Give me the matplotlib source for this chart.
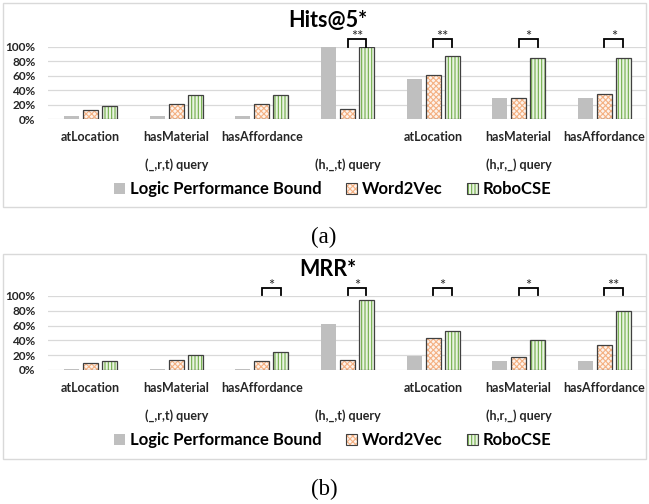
import matplotlib
matplotlib.use("Agg")
import matplotlib.pyplot as plt
from matplotlib.patches import Rectangle, Patch
from matplotlib.legend_handler import HandlerTuple
from matplotlib.transforms import blended_transform_factory
import numpy as np

# ---------------- data ----------------
relations = ['atLocation', 'hasMaterial', 'hasAffordance', '',
             'atLocation', 'hasMaterial', 'hasAffordance']
query_labels = ['(_,r,t) query', '(h,_,t) query', '(h,r,_) query']
query_label_pos = [1, 3, 5]
series_names = ['Logic Performance Bound', 'Word2Vec', 'RoboCSE']

hits_logic = [4, 4, 4, 100, 55, 29, 29]
hits_w2v = [13, 21, 21, 14, 61, 29, 35]
hits_robo = [19, 34, 33, 100, 87, 85, 85]
hits_sig = ['', '', '', '**', '**', '*', '*']

mrr_logic = [1, 1, 1, 62, 19, 12, 12]
mrr_w2v = [10, 13, 12, 13, 43, 18, 34]
mrr_robo = [12, 20, 25, 95, 53, 41, 80]
mrr_sig = ['', '', '*', '*', '*', '*', '**']

yticks = [0, 20, 40, 60, 80, 100]

# ---------------- style ----------------
plt.rcParams['font.family'] = ['Lato', 'DejaVu Sans']
plt.rcParams['hatch.linewidth'] = 0.8
W, H = 649, 504
fig = plt.figure(figsize=(W / 100, H / 100), dpi=100)

GRAY = '#BFBFBF'
ORANGE_H = '#F4B183'
ORANGE_F = '#FDF3EC'
GREEN_H = '#70AD47'
GREEN_F = '#EAF4E3'
EDGE = '#404040'
TXT = '#262626'


def fy(py):
    return 1 - py / H


def panel(top, title, title_y, logic, w2v, robo, sig, y0, y100, row1, row2, leg_y,
          bottom, cap_y, cap, br_lo, br_hi, star_y):
    # border
    fig.patches.append(Rectangle((3 / W, fy(bottom)), (646 - 3) / W, (bottom - top) / H,
                                 transform=fig.transFigure, fill=False,
                                 edgecolor='#D9D9D9', linewidth=1.0))
    ax = fig.add_axes([48 / W, fy(y0), 599 / W, (y0 - y100) / H])
    x = np.arange(len(relations))
    bw, off = 0.175, 0.222
    l = np.array(logic) / 100
    w = np.array(w2v) / 100
    r = np.array(robo) / 100
    ax.bar(x - off, l, bw, color=GRAY, linewidth=0, zorder=3)
    ax.bar(x, w, bw, color=ORANGE_F, edgecolor=ORANGE_H, hatch='xxxxxx', linewidth=0, zorder=3)
    ax.bar(x, w, bw, fill=False, edgecolor=EDGE, linewidth=0.9, zorder=4)
    ax.bar(x + off, r, bw, color=GREEN_F, edgecolor=GREEN_H, hatch='|||||', linewidth=0, zorder=3)
    ax.bar(x + off, r, bw, fill=False, edgecolor=EDGE, linewidth=0.9, zorder=4)
    ax.set_xlim(-0.5, len(relations) - 0.5)
    ax.set_ylim(0, 1.0)
    ax.set_yticks(np.array(yticks) / 100)
    ax.set_yticklabels([f'{t}%' for t in yticks], fontsize=8.5, fontweight='bold', color=TXT)
    ax.tick_params(axis='y', length=0, pad=9)
    ax.set_xticks([])
    for s in ax.spines.values():
        s.set_visible(False)
    ax.grid(axis='y', color='#D9D9D9', linewidth=0.9, zorder=0)
    ax.set_axisbelow(True)
    # significance brackets
    for i, s in enumerate(sig):
        if s:
            ax.plot([i, i, i + off, i + off], [br_lo, br_hi, br_hi, br_lo], color='black',
                    linewidth=1.3, clip_on=False, zorder=5, solid_joinstyle='miter')
            ax.text(i + off / 2, star_y, s, ha='center', va='baseline', fontsize=10.5,
                    color=TXT, clip_on=False)
    tr = blended_transform_factory(ax.transData, fig.transFigure)
    for i, name in enumerate(relations):
        if name:
            fig.text(i, fy(row1), name, transform=tr, ha='center', va='center',
                     fontsize=9, fontweight='bold', color=TXT)
    for p, q in zip(query_label_pos, query_labels):
        fig.text(p, fy(row2), q, transform=tr, ha='center', va='center',
                 fontsize=9, fontweight='bold', color=TXT)
    fig.text(328 / W, fy(title_y), title, ha='center', va='center',
             fontsize=15.5, fontweight='bold', color='black')
    outline_o = Patch(fill=False, edgecolor=EDGE, linewidth=0.8)
    outline_g = Patch(fill=False, edgecolor=EDGE, linewidth=0.8)
    handles = [Patch(facecolor=GRAY, edgecolor=GRAY, linewidth=0),
               (Patch(facecolor=ORANGE_F, edgecolor=ORANGE_H, hatch='xxxxxx', linewidth=0), outline_o),
               (Patch(facecolor=GREEN_F, edgecolor=GREEN_H, hatch='|||||', linewidth=0), outline_g)]
    fig.legend(handles, series_names, loc='center', bbox_to_anchor=(333 / W, fy(leg_y)),
               ncol=3, frameon=False, handlelength=0.62, handleheight=0.62,
               handletextpad=0.3, columnspacing=1.5,
               handler_map={tuple: HandlerTuple(ndivide=1)},
               prop={'family': ['Lato', 'DejaVu Sans'], 'weight': 'bold', 'size': 12})
    fig.text(324 / W, fy(cap_y), cap, ha='center', va='center', fontsize=16.5,
             family=['Liberation Serif', 'DejaVu Serif'], color='black')
    return ax


panel(3, 'Hits@5*', 20, hits_logic, hits_w2v, hits_robo, hits_sig,
      y0=119.3, y100=46.7, row1=137, row2=165, leg_y=189, bottom=207, cap_y=237, cap='(a)',
      br_lo=1.0, br_hi=1.10, star_y=1.075)
panel(254, 'MRR*', 270, mrr_logic, mrr_w2v, mrr_robo, mrr_sig,
      y0=370, y100=296, row1=388, row2=416, leg_y=440, bottom=459, cap_y=489, cap='(b)',
      br_lo=1.01, br_hi=1.11, star_y=1.075)

fig.savefig('out.png', dpi=100)
